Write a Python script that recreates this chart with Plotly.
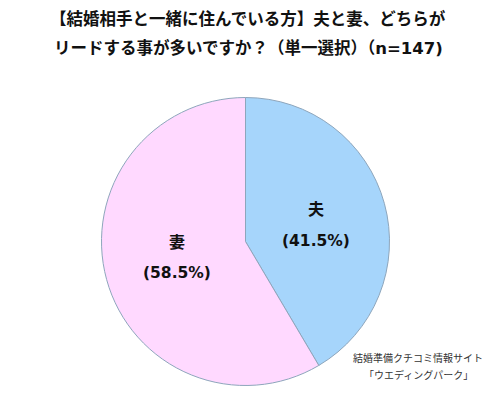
import plotly.graph_objects as go

categories = ["夫", "妻"]
values = [41.5, 58.5]
colors = ["#A6D5FB", "#FFD9FF"]
title_lines = ["【結婚相手と一緒に住んでいる方】夫と妻、どちらが", "リードする事が多いですか？（単一選択）（n=147)"]
source_lines = ["結婚準備クチコミ情報サイト", "「ウエディングパーク」"]

W, H = 500, 399
cx, cy, r = 245.5, 241.5, 144

fig = go.Figure(go.Pie(
    labels=categories, values=values, sort=False, direction="clockwise", rotation=0,
    marker=dict(colors=colors, line=dict(color="#8EA6BC", width=1)),
    textinfo="none", hoverinfo="label+percent", showlegend=False,
    domain=dict(x=[(cx - r) / W, (cx + r) / W], y=[(H - cy - r) / H, (H - cy + r) / H]),
))

font_b = "Noto Sans CJK JP"
font_pct = "DejaVu Sans, Noto Sans CJK JP"


def ann(text, x, y, family, size, color="#111"):
    fig.add_annotation(x=x / W, y=1 - y / H, xref="paper", yref="paper", text=text,
                       xanchor="center", yanchor="middle", showarrow=False,
                       font=dict(family=family, size=size, color=color))


label_pos = [(316, 208, 241), (177, 241, 273)]
for (cat, val), (x, y1, y2) in zip(zip(categories, values), label_pos):
    ann(f"<b>{cat}</b>", x, y1, font_b, 16)
    ann(f"<b>({val:.1f}%)</b>", x, y2, font_pct, 15.5)

for line, y in zip(title_lines, [19, 48]):
    ann(f"<b>{line}</b>", 248, y, font_pct, 16.5)

for line, y in zip(source_lines, [357, 374]):
    ann(line, 418, y, font_b, 10, "#333")

fig.update_layout(width=W, height=H, margin=dict(l=0, r=0, t=0, b=0),
                  paper_bgcolor="white", plot_bgcolor="white")
fig.write_html("out.html")
